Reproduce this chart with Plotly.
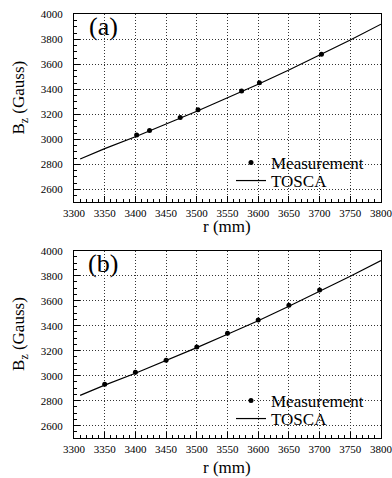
import plotly.graph_objects as go

# ---- data ----
r_meas_a = [3402, 3423, 3473, 3502, 3573, 3602, 3703]
bz_meas_a = [3034, 3070, 3175, 3237, 3386, 3452, 3681]

r_meas_b = [3350, 3400, 3450, 3500, 3550, 3600, 3650, 3700]
bz_meas_b = [2931, 3027, 3123, 3230, 3339, 3446, 3563, 3686]

r_tosca = [3310, 3350, 3400, 3450, 3500, 3550, 3600, 3650, 3700, 3750, 3800]
bz_tosca = [2843, 2925, 3020, 3120, 3225, 3332, 3440, 3555, 3672, 3795, 3921]

x_ticks = [3300, 3350, 3400, 3450, 3500, 3550, 3600, 3650, 3700, 3750, 3800]
y_ticks = [2600, 2800, 3000, 3200, 3400, 3600, 3800, 4000]

W, H = 392, 478
FONT = "Liberation Serif"

fig = go.Figure()

fig.add_trace(go.Scatter(x=r_meas_a, y=bz_meas_a, mode="markers", name="Measurement",
                         marker=dict(color="black", size=5), xaxis="x", yaxis="y", legend="legend"))
fig.add_trace(go.Scatter(x=r_tosca, y=bz_tosca, mode="lines", name="TOSCA",
                         line=dict(color="black", width=1.2), xaxis="x", yaxis="y", legend="legend2"))
fig.add_trace(go.Scatter(x=r_meas_b, y=bz_meas_b, mode="markers", name="Measurement",
                         marker=dict(color="black", size=5), xaxis="x2", yaxis="y2", legend="legend3"))
fig.add_trace(go.Scatter(x=r_tosca, y=bz_tosca, mode="lines", name="TOSCA",
                         line=dict(color="black", width=1.2), xaxis="x2", yaxis="y2", legend="legend4"))

x0, x1 = 74 / W, 381 / W
ya = [1 - 201.8 / H, 1 - 14.3 / H]
yb = [1 - 438.2 / H, 1 - 250.7 / H]

GRIDDASH = "1px,2px"
GRIDCOLOR = "#333"


def xaxis(anchor, domain):
    return dict(domain=domain, anchor=anchor, range=[3300, 3800], tickvals=x_ticks,
                ticks="inside", ticklen=6, tickcolor="black", showline=True, linecolor="black",
                linewidth=1, mirror=True, showgrid=True, gridcolor=GRIDCOLOR, griddash=GRIDDASH,
                gridwidth=1, zeroline=False, automargin=False, ticklabelstandoff=1,
                ticklabeloverflow="allow",
                minor=dict(dtick=10, tick0=3300, ticks="inside", ticklen=3, tickcolor="black", showgrid=False),
                tickfont=dict(family=FONT, size=11, color="black"))


def yaxis(anchor, domain):
    return dict(domain=domain, anchor=anchor, range=[2500, 4000], tickvals=y_ticks,
                ticks="inside", ticklen=6, tickcolor="black", showline=True, linecolor="black",
                linewidth=1, mirror=True, showgrid=True, gridcolor=GRIDCOLOR, griddash=GRIDDASH,
                gridwidth=1, zeroline=False, automargin=False, ticklabelstandoff=8,
                ticklabeloverflow="allow",
                minor=dict(dtick=50, tick0=2500, ticks="inside", ticklen=3, tickcolor="black", showgrid=False),
                tickfont=dict(family=FONT, size=11, color="black"))


legend_common = dict(bgcolor="rgba(0,0,0,0)", xanchor="left", yanchor="middle", itemwidth=30,
                     font=dict(family=FONT, size=17, color="black"))

annotations = []
for (label, dom, xt_gap) in (("(a)", ya, 25), ("(b)", yb, 29)):
    top_px = (1 - dom[1]) * H
    bot_px = (1 - dom[0]) * H
    annotations.append(dict(text=label, x=103 / W, y=1 - (top_px + 12.5) / H, xref="paper", yref="paper",
                            showarrow=False, xanchor="center", yanchor="middle",
                            font=dict(family=FONT, size=26, color="black")))
    annotations.append(dict(text="r (mm)", x=227 / W, y=1 - (bot_px + xt_gap) / H, xref="paper", yref="paper",
                            showarrow=False, xanchor="center", yanchor="middle",
                            font=dict(family=FONT, size=17, color="black")))
    annotations.append(dict(text="B<sub>z</sub> (Gauss)", x=20.5 / W, y=1 - ((top_px + bot_px) / 2 - 10) / H,
                            xref="paper", yref="paper", showarrow=False, textangle=-90,
                            xanchor="center", yanchor="middle",
                            font=dict(family=FONT, size=17, color="black")))

LX = 231 / W
fig.update_layout(
    width=W, height=H, margin=dict(l=0, r=0, t=0, b=0, autoexpand=False),
    paper_bgcolor="white", plot_bgcolor="white",
    font=dict(family=FONT, color="black"),
    xaxis=xaxis("y", [x0, x1]), yaxis=yaxis("x", ya),
    xaxis2=xaxis("y2", [x0, x1]), yaxis2=yaxis("x2", yb),
    legend=dict(x=LX, y=1 - 163 / H, **legend_common),
    legend2=dict(x=LX, y=1 - 181 / H, **legend_common),
    legend3=dict(x=LX, y=1 - 401 / H, **legend_common),
    legend4=dict(x=LX, y=1 - 419 / H, **legend_common),
    annotations=annotations,
    showlegend=True,
)

fig.write_html("out.html", config={"displayModeBar": False},
               post_script="document.body.style.margin='0px';")
